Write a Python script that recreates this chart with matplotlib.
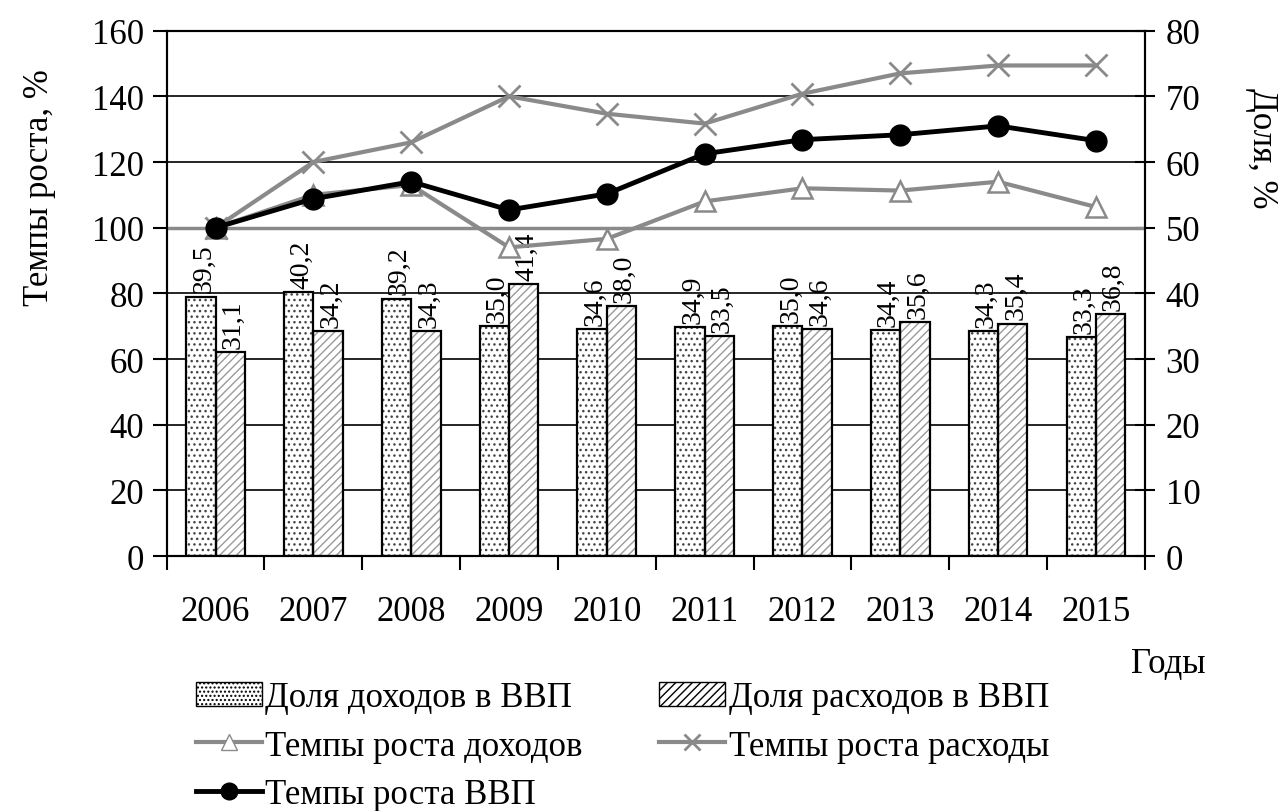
import numpy as np
import matplotlib.pyplot as plt
from matplotlib.patches import Patch
from matplotlib.lines import Line2D
from matplotlib.ticker import MultipleLocator

plt.rcParams['font.family'] = ['Liberation Serif', 'DejaVu Serif']

years = ['2006', '2007', '2008', '2009', '2010', '2011', '2012', '2013', '2014', '2015']
# доли в ВВП, % (правая ось)
income_share = [39.5, 40.2, 39.2, 35.0, 34.6, 34.9, 35.0, 34.4, 34.3, 33.3]
spend_share = [31.1, 34.2, 34.3, 41.4, 38.0, 33.5, 34.6, 35.6, 35.4, 36.8]
# темпы роста, % (левая ось)
income_growth = [100, 110, 113, 94, 96.6, 108, 112, 111.3, 114, 106.3]
spend_growth = [100, 120, 126, 140, 134.7, 131.7, 140.8, 147, 149.4, 149.4]
gdp_growth = [100, 108.8, 114, 105.4, 110.3, 122.5, 126.8, 128.3, 131, 126.5]

grey = '#8a8a8a'
x = np.arange(len(years))
w = 0.3

fig = plt.figure(figsize=(12.82, 8.12), dpi=100)
ax = fig.add_axes([0.130, 0.314, 0.763, 0.647])
ax2 = ax.twinx()
ax.set_zorder(ax2.get_zorder() + 1)
ax.patch.set_visible(False)

# столбики долей
plt.rcParams['hatch.linewidth'] = 1.0
ax2.bar(x - w / 2, income_share, w, color='white', hatch='...', edgecolor='#444444', lw=0)
ax2.bar(x + w / 2, spend_share, w, color='white', hatch='////', edgecolor='#9a9a9a', lw=0)
ax2.bar(x - w / 2, income_share, w, fill=False, edgecolor='black', lw=1.6)
ax2.bar(x + w / 2, spend_share, w, fill=False, edgecolor='black', lw=1.6)
for xs, vals in ((x - w / 2, income_share), (x + w / 2, spend_share)):
    for xi, v in zip(xs, vals):
        ax2.annotate(f'{v:.1f}'.replace('.', ','), (xi, v), xytext=(2, 3),
                     textcoords='offset points', rotation=90, ha='center',
                     va='bottom', fontsize=20)

ax2.set_ylim(0, 80)
ax2.yaxis.set_major_locator(MultipleLocator(10))
ax2.grid(axis='y', color='black', lw=1.2)
ax2.set_axisbelow(True)
ax2.tick_params(axis='y', direction='inout', length=14, width=1.5, labelsize=25, pad=8)

# линии темпов роста
ax.axhline(100, color=grey, lw=2.5, zorder=1)
ax.plot(x, spend_growth, color=grey, lw=3, marker='x', ms=16, mew=2, zorder=3)
ax.plot(x, income_growth, color=grey, lw=3, marker='^', ms=14, mfc='white',
        mec=grey, mew=1.8, zorder=4)
ax.plot(x, gdp_growth, color='black', lw=3.5, marker='o', ms=15, zorder=5)

ax.set_ylim(0, 160)
ax.set_xlim(-0.5, len(years) - 0.5)
ax.yaxis.set_major_locator(MultipleLocator(20))
ax.tick_params(axis='y', direction='out', length=10, width=1.5, labelsize=25, pad=6)
ax.set_xticks(x)
ax.set_xticklabels(years)
ax.set_xticks(np.arange(-0.5, len(years)), minor=True)
ax.tick_params(axis='x', which='major', length=0, labelsize=25, pad=28)
ax.tick_params(axis='x', which='minor', direction='out', length=10, width=1.5)
for a in (ax, ax2):
    for s in a.spines.values():
        s.set_linewidth(1.5)

fig.text(0.031, 1 - 188 / 812, 'Темпы роста, %', rotation=90, ha='center',
         va='center', fontsize=25)
fig.text(0.984, 1 - 148 / 812, 'Доля, %', rotation=270, ha='center',
         va='center', fontsize=25)
fig.text(1168 / 1282, 1 - 665 / 812, 'Годы', ha='center', va='center', fontsize=25)

handles = [
    Patch(facecolor='white', edgecolor='black', hatch='....'),
    Line2D([], [], color=grey, lw=3, marker='^', ms=11, mfc='white', mec=grey),
    Line2D([], [], color='black', lw=3.5, marker='o', ms=12),
    Patch(facecolor='white', edgecolor='black', hatch='////'),
    Line2D([], [], color=grey, lw=3, marker='x', ms=12, mew=2),
]
labels = ['Доля доходов в ВВП', 'Темпы роста доходов', 'Темпы роста ВВП',
          'Доля расходов в ВВП', 'Темпы роста расходы']
fig.legend(handles, labels, loc='upper left', bbox_to_anchor=(0.142, 1 - 668 / 812),
           ncol=2, frameon=False, fontsize=25, handlelength=1.9, handletextpad=0.1,
           labelspacing=0.45, columnspacing=2.2, borderaxespad=0)

fig.savefig('out.png', dpi=100)
